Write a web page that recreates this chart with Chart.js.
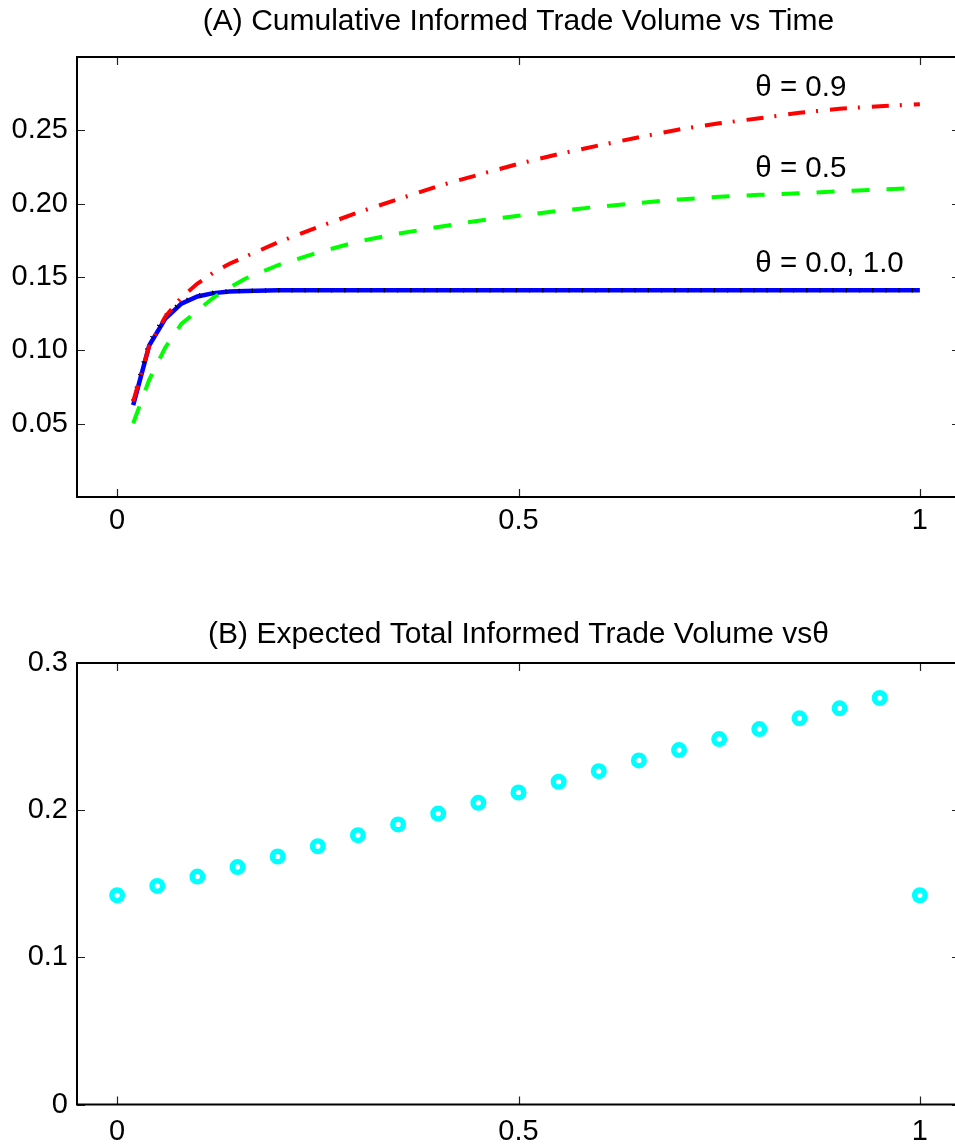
<!DOCTYPE html>
<html>
<head>
<meta charset="utf-8">
<script src="https://cdn.jsdelivr.net/npm/chart.js@4.4.1/dist/chart.umd.min.js"></script>
<style>
  html, body { margin: 0; padding: 0; background: #fff; overflow: hidden; width: 955px; height: 1145px; }
  canvas { position: absolute; left: 0; }
  #chartA { top: 0; }
  #chartB { top: 613px; }
</style>
</head>
<body>
<canvas id="chartA" width="975" height="560"></canvas>
<canvas id="chartB" width="975" height="532"></canvas>
<script>
/* ================= DATOS PANEL A ================= */
const tiempo = [0.02, 0.04, 0.06, 0.08, 0.10, 0.12, 0.14, 0.16, 0.20, 0.25, 0.30, 0.35, 0.40,
  0.45, 0.50, 0.55, 0.60, 0.65, 0.70, 0.75, 0.80, 0.85, 0.90, 0.95, 1.00];

const volTheta09 = [0.065, 0.103, 0.123, 0.136, 0.1455, 0.153, 0.159, 0.164, 0.1735, 0.184, 0.194,
  0.203, 0.212, 0.2197, 0.2272, 0.2338, 0.2397, 0.2453, 0.2506, 0.2548, 0.2582, 0.262, 0.2647, 0.2665, 0.2678];

const volTheta05 = [0.0503, 0.080, 0.102, 0.118, 0.127, 0.136, 0.1428, 0.149, 0.158, 0.1667, 0.1742,
  0.1795, 0.1841, 0.1884, 0.1917, 0.1951, 0.1979, 0.2005, 0.2029, 0.2047, 0.206, 0.2071, 0.2084, 0.2097, 0.2107];

const volTheta00 = [0.0655, 0.1055, 0.1235, 0.1328, 0.1372, 0.1393, 0.1403, 0.1406, 0.141, 0.141, 0.141,
  0.141, 0.141, 0.141, 0.141, 0.141, 0.141, 0.141, 0.141, 0.141, 0.141, 0.141, 0.141, 0.141, 0.141];

const volTheta10 = [0.0626, 0.1034, 0.1216, 0.1318, 0.1367, 0.139, 0.1401, 0.1405, 0.141, 0.141, 0.141,
  0.141, 0.141, 0.141, 0.141, 0.141, 0.141, 0.141, 0.141, 0.141, 0.141, 0.141, 0.141, 0.141, 0.141];

const ticksXA = [0, 0.5, 1];
const etiquetasXA = ["0", "0.5", "1"];
const ticksYA = [0.05, 0.10, 0.15, 0.20, 0.25];
const etiquetasYA = ["0.05", "0.10", "0.15", "0.20", "0.25"];

const textosTheta = ["\u03b8 = 0.9", "\u03b8 = 0.5", "\u03b8 = 0.0, 1.0"];
const textosX = [0.795, 0.795, 0.795];
const textosY = [0.279, 0.2238, 0.159];

/* ================= DATOS PANEL B ================= */
const theta = [0, 0.05, 0.10, 0.15, 0.20, 0.25, 0.30, 0.35, 0.40, 0.45, 0.50,
  0.55, 0.60, 0.65, 0.70, 0.75, 0.80, 0.85, 0.90, 0.95, 1.00];
const volTotal = [0.1422, 0.1485, 0.1549, 0.1614, 0.1685, 0.1755, 0.183, 0.1903, 0.1977, 0.205, 0.212,
  0.2193, 0.2265, 0.2338, 0.2408, 0.2483, 0.2551, 0.2624, 0.2692, 0.2762, 0.1422];

const ticksXB = [0, 0.5, 1];
const etiquetasXB = ["0", "0.5", "1"];
const ticksYB = [0, 0.1, 0.2, 0.3];
const etiquetasYB = ["0", "0.1", "0.2", "0.3"];

/* ================= HELPERS ================= */
const FUENTE = "'Liberation Sans', Arial, Helvetica, sans-serif";
const TICK = 8;

Chart.defaults.font.family = FUENTE;
Chart.defaults.font.size = 29;
Chart.defaults.color = "#000";

const puntos = (xs, ys) => xs.map((v, i) => ({ x: v, y: ys[i] }));

// caja completa con marcas hacia dentro, estilo MATLAB
const marcoMatlab = {
  id: "marcoMatlab",
  afterDraw(chart) {
    const { ctx, chartArea: a, scales: { x, y } } = chart;
    ctx.save();
    ctx.strokeStyle = "#222";
    ctx.lineWidth = 1.2;
    ctx.beginPath();
    x.ticks.forEach(t => {
      const px = Math.round(x.getPixelForValue(t.value)) + 0.5;
      ctx.moveTo(px, a.bottom); ctx.lineTo(px, a.bottom - TICK);
      ctx.moveTo(px, a.top); ctx.lineTo(px, a.top + TICK);
    });
    y.ticks.forEach(t => {
      const py = Math.round(y.getPixelForValue(t.value)) + 0.5;
      ctx.moveTo(a.left, py); ctx.lineTo(a.left + TICK, py);
      ctx.moveTo(a.right, py); ctx.lineTo(a.right - TICK, py);
    });
    ctx.stroke();
    ctx.strokeStyle = "#000";
    ctx.lineWidth = 2;
    ctx.strokeRect(a.left, a.top, a.right - a.left, a.bottom - a.top);
    ctx.restore();
  }
};

const etiquetasTheta = {
  id: "etiquetasTheta",
  afterDatasetsDraw(chart) {
    const { ctx, scales: { x, y } } = chart;
    ctx.save();
    ctx.font = "29.5px " + FUENTE;
    ctx.fillStyle = "#000";
    ctx.textAlign = "left";
    ctx.textBaseline = "middle";
    textosTheta.forEach((txt, i) => {
      ctx.fillText(txt, x.getPixelForValue(textosX[i]), y.getPixelForValue(textosY[i]));
    });
    ctx.restore();
  }
};

function ejes(ticksX, labelsX, ticksY, labelsY, yMax, altoX, padX) {
  return {
    x: {
      type: "linear", min: -0.05, max: 1.05,
      grid: { display: false, drawTicks: false },
      border: { display: false },
      ticks: { padding: padX, maxRotation: 0, callback: (v, i) => labelsX[i] },
      afterBuildTicks: s => { s.ticks = ticksX.map(v => ({ value: v })); },
      afterFit: s => { s.height = altoX; }
    },
    y: {
      type: "linear", min: 0, max: yMax,
      grid: { display: false, drawTicks: false },
      border: { display: false },
      ticks: { padding: 9, callback: (v, i) => labelsY[i] },
      afterBuildTicks: s => { s.ticks = ticksY.map(v => ({ value: v })); },
      afterFit: s => { s.width = 77; }
    }
  };
}

/* ================= PANEL A ================= */
new Chart(document.getElementById("chartA"), {
  type: "line",
  data: {
    datasets: [
      { data: puntos(tiempo, volTheta09), borderColor: "#ff0000", borderWidth: 4,
        borderDash: [17, 11, 2, 12], borderCapStyle: "butt" },
      { data: puntos(tiempo, volTheta05), borderColor: "#00ff00", borderWidth: 4,
        borderDash: [18, 17], borderCapStyle: "butt" },
      { data: puntos(tiempo, volTheta00), borderColor: "#000000", borderWidth: 4.5,
        borderDash: [1.2, 12], borderCapStyle: "butt" },
      { data: puntos(tiempo, volTheta10), borderColor: "#0000ff", borderWidth: 4.5 }
    ]
  },
  options: {
    responsive: false,
    animation: false,
    elements: { point: { radius: 0 }, line: { tension: 0 } },
    layout: { padding: { left: 0, right: 15, top: 0, bottom: 0 } },
    plugins: {
      legend: { display: false },
      tooltip: { enabled: false },
      title: {
        display: true, fullSize: false,
        text: "(A) Cumulative Informed Trade Volume vs Time",
        font: { size: 30, weight: "normal" }, color: "#000",
        padding: { top: 4, bottom: 17 }
      }
    },
    scales: ejes(ticksXA, etiquetasXA, ticksYA, etiquetasYA, 0.3, 63, 6.5)
  },
  plugins: [etiquetasTheta, marcoMatlab]
});

/* ================= PANEL B ================= */
new Chart(document.getElementById("chartB"), {
  type: "scatter",
  data: {
    datasets: [
      { data: puntos(theta, volTotal), borderColor: "#00ffff", backgroundColor: "#ffffff",
        pointRadius: 5.3, borderWidth: 5.4, showLine: false }
    ]
  },
  options: {
    responsive: false,
    animation: false,
    layout: { padding: { left: 0, right: 15, top: 0, bottom: 0 } },
    plugins: {
      legend: { display: false },
      tooltip: { enabled: false },
      title: {
        display: true, fullSize: false,
        text: "(B) Expected Total Informed Trade Volume vs\u03b8",
        font: { size: 30, weight: "normal" }, color: "#000",
        padding: { top: 4, bottom: 10 }
      }
    },
    scales: ejes(ticksXB, etiquetasXB, ticksYB, etiquetasYB, 0.3, 40.5, 10.5)
  },
  plugins: [marcoMatlab]
});
</script>
</body>
</html>
